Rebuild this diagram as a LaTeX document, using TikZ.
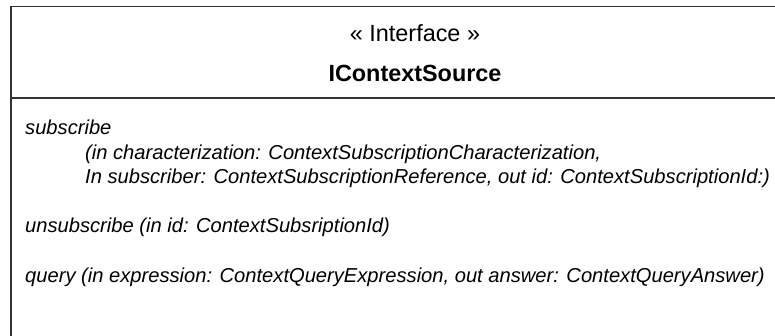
\documentclass[tikz,border=0pt]{standalone}
\usepackage{fontspec}
\setmainfont{Liberation Sans}
\begin{document}
\begin{tikzpicture}[x=1pt,y=-1pt,
  frame/.style={draw=black!80, line width=1.6pt},
  head/.style={inner sep=0pt, anchor=base, font=\fontsize{23.4}{28}\selectfont},
  op/.style={inner sep=0pt, anchor=base west, font=\fontsize{20.15}{24.5}\selectfont\itshape}]
\useasboundingbox (0,0) rectangle (775,336);
\coordinate (tl) at (11,6.5);
\coordinate (tr) at (780,6.5);
\coordinate (bl) at (11,340);
\coordinate (sl) at (11,98);
\coordinate (sr) at (780,98);
\draw[frame] (bl) -- (tl) -- (tr);
\draw[frame] (sl) -- (sr);
\node[head] (stereo) at (415,41.5) {« Interface »};
\node[head, font=\fontsize{23.4}{28}\selectfont\bfseries] (name) at (415,82) {IContextSource};
\node[op] (sub) at (25,135) {subscribe};
\node[op] (sub1) at (85,159.5) {(in characterization: ContextSubscriptionCharacterization,};
\node[op] (sub2) at (85,184) {In subscriber: ContextSubscriptionReference, out id: ContextSubscriptionId:)};
\node[op] (unsub) at (25,233) {unsubscribe (in id: ContextSubsriptionId)};
\node[op] (query) at (25,282) {query (in expression: ContextQueryExpression, out answer: ContextQueryAnswer)};
\end{tikzpicture}
\end{document}
